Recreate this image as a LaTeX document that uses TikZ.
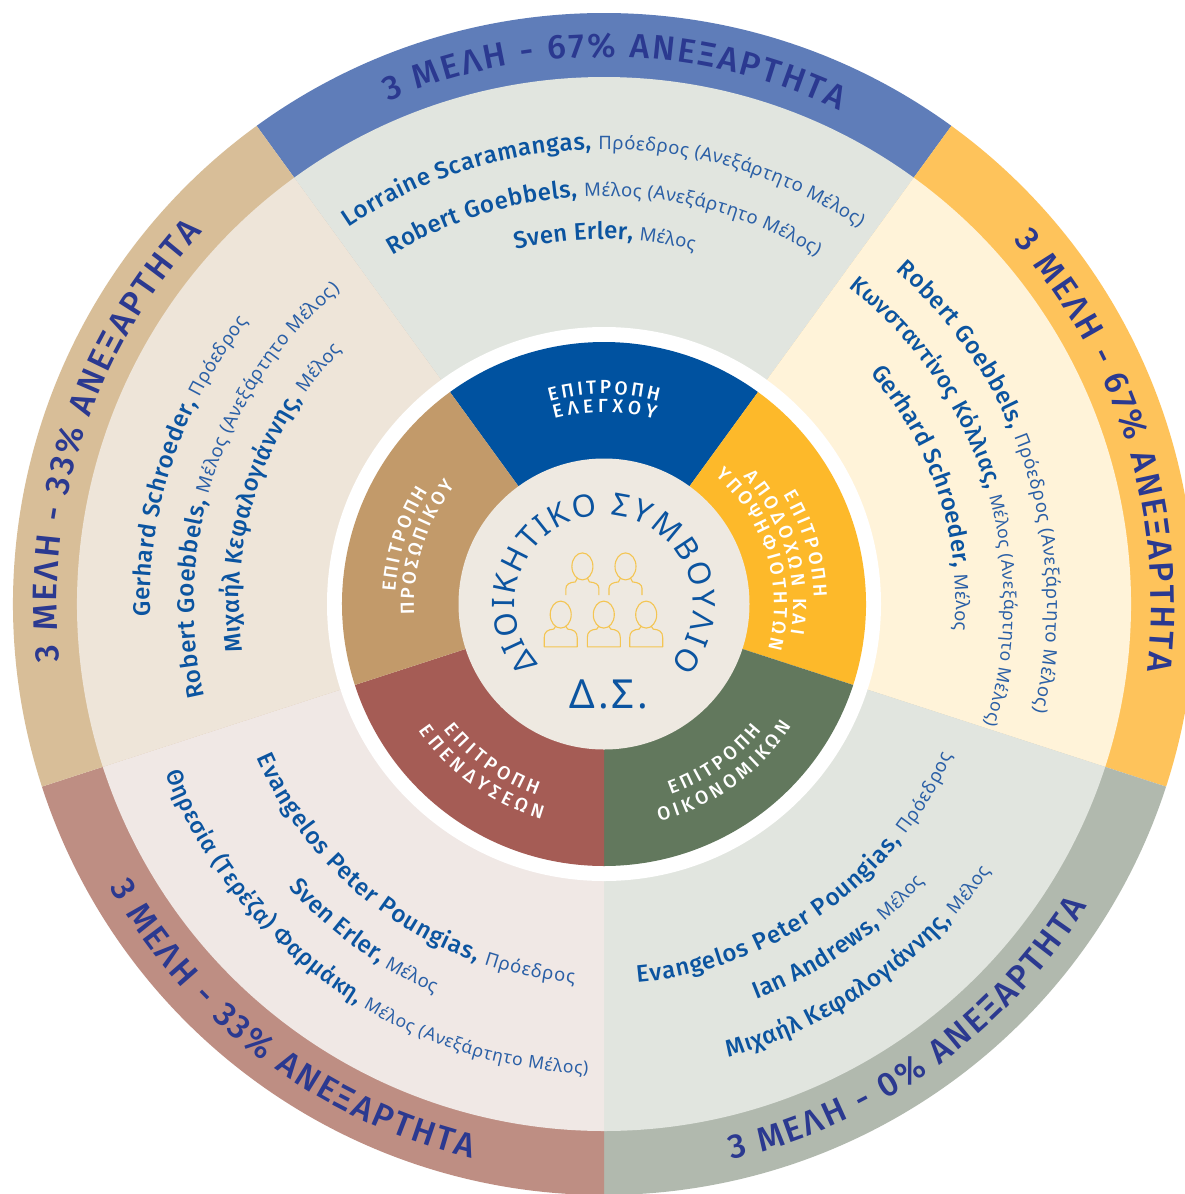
\documentclass[tikz,border=0pt]{standalone}
\usepackage{fontspec}
\usetikzlibrary{decorations.text}
\setmainfont{Fira Sans}
\newfontfamily\namef{Fira Sans Medium}
\newfontfamily\rolef{Noto Sans}
\newfontfamily\titlef{Fira Sans Medium}
\newfontfamily\whitef{Fira Sans Medium}
\definecolor{otop}{HTML}{5F7DB9}
\definecolor{oright}{HTML}{FEC35B}
\definecolor{obr}{HTML}{B1B9AE}
\definecolor{obl}{HTML}{BE8E83}
\definecolor{oleft}{HTML}{D8BE98}
\definecolor{ltop}{HTML}{E1E5DF}
\definecolor{lright}{HTML}{FFF3D9}
\definecolor{lbl}{HTML}{F0E8E5}
\definecolor{lleft}{HTML}{EEE5D9}
\definecolor{itop}{HTML}{0052A0}
\definecolor{iright}{HTML}{FDB92A}
\definecolor{ibr}{HTML}{62785D}
\definecolor{ibl}{HTML}{A55C55}
\definecolor{ileft}{HTML}{C29A6A}
\definecolor{disc}{HTML}{EEE9E1}
\definecolor{titlec}{HTML}{2B3990}
\definecolor{namec}{HTML}{0B54A0}
\definecolor{rolec}{HTML}{2A5FA6}
\definecolor{gold}{HTML}{F4C552}
\newcommand\sector[4]{\fill[#1] (604pt,-604pt) -- ++(#2:#4pt) arc[start angle=#2,end angle=#3,radius=#4pt] -- cycle;}
\newcommand\arctext[4]{\path[decorate,decoration={text along path,text align={fit to path},text={#4}}] (604pt,-604pt) ++(#1:#3pt) arc[start angle=#1,end angle=#2,radius=#3pt];}
\newcommand\N{\fontsize{24}{24}\namef\color{namec}}
\newcommand\Rl{\fontsize{18.5}{18.5}\rolef\color{rolec}}
\newcommand\Ns{\fontsize{23}{23}\namef\color{namec}}
\newcommand\Rs{\fontsize{17.5}{17.5}\rolef\color{rolec}}
\newcommand\T{\fontsize{34}{34}\titlef\color{titlec}}
\newcommand\W{\fontsize{19}{19}\whitef\color{white}}
\newcommand\C{\fontsize{31}{31}\rolef\color{namec}}
\tikzset{icon/.style={draw=gold,line width=1.1pt,line join=round}}
\newcommand\persontop[2]{\begin{scope}[shift={(#1pt,-#2pt)}]
\draw[icon] (0,0) ellipse [x radius=10.5pt,y radius=13.5pt];
\draw[icon] (-16.5pt,-28.6pt) -- (-16.5pt,-22pt) .. controls (-16.5pt,-18pt) and (-13pt,-16pt) .. (-7pt,-15.5pt) -- (-5pt,-11.5pt);
\draw[icon] (16.5pt,-28.6pt) -- (16.5pt,-22pt) .. controls (16.5pt,-18pt) and (13pt,-16pt) .. (7pt,-15.5pt) -- (5pt,-11.5pt);
\end{scope}}
\newcommand\personbot[2]{\begin{scope}[shift={(#1pt,-#2pt)}]
\draw[icon] (0,0) ellipse [x radius=10.5pt,y radius=13.5pt];
\draw[icon] (-5pt,-11.5pt) -- (-7pt,-14.5pt) .. controls (-13pt,-15pt) and (-16.5pt,-17pt) .. (-16.5pt,-23pt) -- (-16.5pt,-32.2pt) -- (16.5pt,-32.2pt) -- (16.5pt,-23pt) .. controls (16.5pt,-17pt) and (13pt,-15pt) .. (7pt,-14.5pt) -- (5pt,-11.5pt);
\end{scope}}
\begin{document}
\begin{tikzpicture}[x=1pt,y=1pt]
\useasboundingbox (0,0) rectangle (1185,-1194);
\fill[white] (0,0) rectangle (1185,-1194);
\clip (0,0) rectangle (1185,-1194);
% outer ring
\sector{otop}{54}{126}{591}
\sector{oright}{-18}{54}{591}
\sector{obr}{-90}{-18}{591}
\sector{obl}{-162}{-90}{591}
\sector{oleft}{126}{198}{591}
% light band
\sector{ltop}{54}{126}{527}
\sector{lright}{-18}{54}{527}
\sector{ltop}{-90}{-18}{527}
\sector{lbl}{-162}{-90}{527}
\sector{lleft}{126}{198}{527}
% white ring and inner ring
\fill[white] (604pt,-604pt) circle (277pt);
\sector{itop}{54}{126}{262}
\sector{iright}{-18}{54}{262}
\sector{ibr}{-90}{-18}{262}
\sector{ibl}{-162}{-90}{262}
\sector{ileft}{126}{198}{262}
\fill[disc] (604pt,-604pt) circle (145.5pt);
% titles
\arctext{113.2}{64.5}{547}{|\T|3 ΜΕΛΗ - 67{\%} ΑΝΕΞΑΡΤΗΤΑ}
\arctext{41.6}{-7}{547}{|\T|3 ΜΕΛΗ - 67{\%} ΑΝΕΞΑΡΤΗΤΑ}
\arctext{-77.1}{-32}{570}{|\T|3 ΜΕΛΗ - 0{\%} ΑΝΕΞΑΡΤΗΤΑ}
\arctext{209.8}{256.6}{570}{|\T|3 ΜΕΛΗ - 33{\%} ΑΝΕΞΑΡΤΗΤΑ}
\arctext{186}{137.2}{547}{|\T|3 ΜΕΛΗ - 33{\%} ΑΝΕΞΑΡΤΗΤΑ}
% top members
\arctext{124.2}{55.8}{455}{|\N|Lorraine Scaramangas, |\Rl|Πρόεδρος (Ανεξάρτητο Μέλος)}
\arctext{121.3}{58.5}{408}{|\N|Robert Goebbels, |\Rl|Μέλος (Ανεξάρτητο Μέλος)}
\arctext{104}{75.7}{365}{|\N|Sven Erler, |\Rl|Μέλος}
% right members
\arctext{48.8}{-14}{443}{|\N|Robert Goebbels, |\Rl|Πρόεδρος (Ανεξάρτητο Μέλος)}
\arctext{52.3}{-17.5}{400}{|\Ns|Κωνσταντίνος Κόλλιας, |\Rs|Μέλος (Ανεξάρτητο Μέλος)}
\arctext{40.9}{-4.3}{352}{|\N|Gerhard Schroeder, |\Rl|Μέλος}
% bottom right members
\arctext{-85}{-23.5}{380}{|\N|Evangelos Peter Poungias, |\Rl|Πρόεδρος}
\arctext{-68.9}{-40.9}{424}{|\N|Ian Andrews, |\Rl|Μέλος}
\arctext{-74.6}{-34.6}{470}{|\N|Μιχαήλ Κεφαλογιάννης, |\Rl|Μέλος}
% bottom left members
\arctext{203.9}{265.5}{380}{|\N|Evangelos Peter Poungias, |\Rl|Πρόεδρος}
\arctext{221.9}{246.5}{424}{|\N|Sven Erler, |\Rl|Μέλος}
\arctext{201.1}{268}{470}{|\Ns|Θηρεσία (Τερέζα) Φαρμάκη, |\Rs|Μέλος (Ανεξάρτητο Μέλος)}
% left members
\arctext{181.6}{141.6}{454}{|\N|Gerhard Schroeder, |\Rl|Πρόεδρος}
\arctext{193.1}{130.1}{410}{|\N|Robert Goebbels, |\Rl|Μέλος (Ανεξάρτητο Μέλος)}
\arctext{187.5}{135.9}{365}{|\N|Μιχαήλ Κεφαλογιάννης, |\Rl|Μέλος}
% committees
\arctext{105}{75}{210}{|\W|ΕΠΙΤΡΟΠΗ}
\arctext{105}{74.6}{192}{|\W|ΕΛΕΓΧΟΥ}
\arctext{31.3}{1.9}{210}{|\W|ΕΠΙΤΡΟΠΗ}
\arctext{42.4}{-9.1}{189}{|\W|ΑΠΟΔΟΧΩΝ ΚΑΙ}
\arctext{49}{-15.2}{170}{|\W|ΥΠΟΨΗΦΙΟΤΗΤΩΝ}
\arctext{-70.7}{-38.7}{202}{|\W|ΕΠΙΤΡΟΠΗ}
\arctext{-75.7}{-33.1}{224}{|\W|ΟΙΚΟΝΟΜΙΚΩΝ}
\arctext{218}{250.6}{203}{|\W|ΕΠΙΤΡΟΠΗ}
\arctext{214.3}{253.8}{224}{|\W|ΕΠΕΝΔΥΣΕΩΝ}
\arctext{176.7}{147.3}{209}{|\W|ΕΠΙΤΡΟΠΗ}
\arctext{183.2}{141.5}{190}{|\W|ΠΡΟΣΩΠΙΚΟΥ}
% centre
\arctext{222.6}{-42}{89}{|\C|ΔΙΟΙΚΗΤΙΚΟ ΣΥΜΒΟΥΛΙΟ}
\node[anchor=base,inner sep=0pt,text=namec,font=\fontsize{40}{40}\rolef] (ds) at (609pt,-708.6pt) {Δ\kern3pt.\kern3ptΣ\kern3pt.};
\persontop{582.4}{566.4}
\persontop{625.5}{566.4}
\personbot{560.7}{614.6}
\personbot{603.8}{614.6}
\personbot{646.2}{614.6}
\end{tikzpicture}
\end{document}
